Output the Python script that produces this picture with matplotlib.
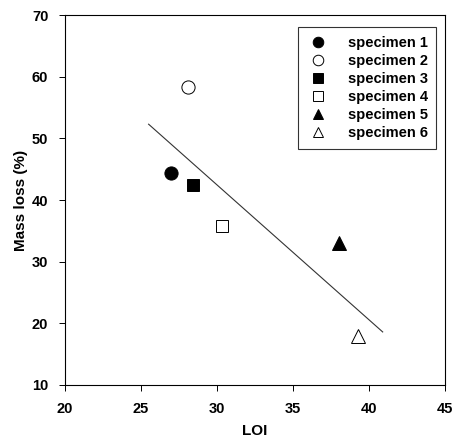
import matplotlib
matplotlib.use("Agg")
import matplotlib.pyplot as plt

plt.rcParams['font.family'] = ['Liberation Sans', 'DejaVu Sans']
plt.rcParams['font.weight'] = 'bold'

labels = ["specimen 1", "specimen 2", "specimen 3", "specimen 4", "specimen 5", "specimen 6"]
loi = [27.0, 28.1, 28.4, 30.3, 38.0, 39.3]
mass_loss = [44.4, 58.3, 42.4, 35.8, 33.0, 18.0]
markers = ["o", "o", "s", "s", "^", "^"]
filled = [True, False, True, False, True, False]
msizes = [9.5, 9.5, 8.5, 8.5, 9.5, 9.5]

fit_x = [25.5, 40.9]
fit_y = [52.3, 18.6]

xticks = [20, 25, 30, 35, 40, 45]
yticks = [10, 20, 30, 40, 50, 60, 70]

fig = plt.figure(figsize=(4.54, 4.44), dpi=100)
ax = fig.add_axes([65 / 454, 0.133, 380 / 454, 0.833])

ax.plot(fit_x, fit_y, color='#333333', lw=0.8)
for x, y, m, f, s, lab in zip(loi, mass_loss, markers, filled, msizes, labels):
    ax.plot([x], [y], linestyle='none', marker=m, markersize=s,
            markerfacecolor='black' if f else 'white',
            markeredgecolor='black', markeredgewidth=0.7, label=lab)

ax.set_xlim(20, 45)
ax.set_ylim(10, 70)
ax.set_xticks(xticks)
ax.set_yticks(yticks)
ax.tick_params(axis='both', direction='out', length=4, width=0.7, labelsize=10.5, pad=8)
for lbl in ax.get_xticklabels() + ax.get_yticklabels():
    lbl.set_fontweight('bold')
for sp in ax.spines.values():
    sp.set_linewidth(0.8)

ax.set_xlabel("LOI", fontsize=11, fontweight='bold', labelpad=6)
ax.set_ylabel("Mass loss (%)", fontsize=11, fontweight='bold', labelpad=3)

leg = ax.legend(loc='upper right', bbox_to_anchor=(0.985, 0.976), frameon=True,
                fancybox=False, edgecolor='black', fontsize=10.5, labelspacing=0.28,
                handletextpad=1.2, borderpad=0.6, borderaxespad=0.2, handlelength=1.6,
                markerscale=0.8)
leg.get_frame().set_linewidth(0.8)
for t in leg.get_texts():
    t.set_fontweight('bold')

fig.savefig("out.png", dpi=100)
